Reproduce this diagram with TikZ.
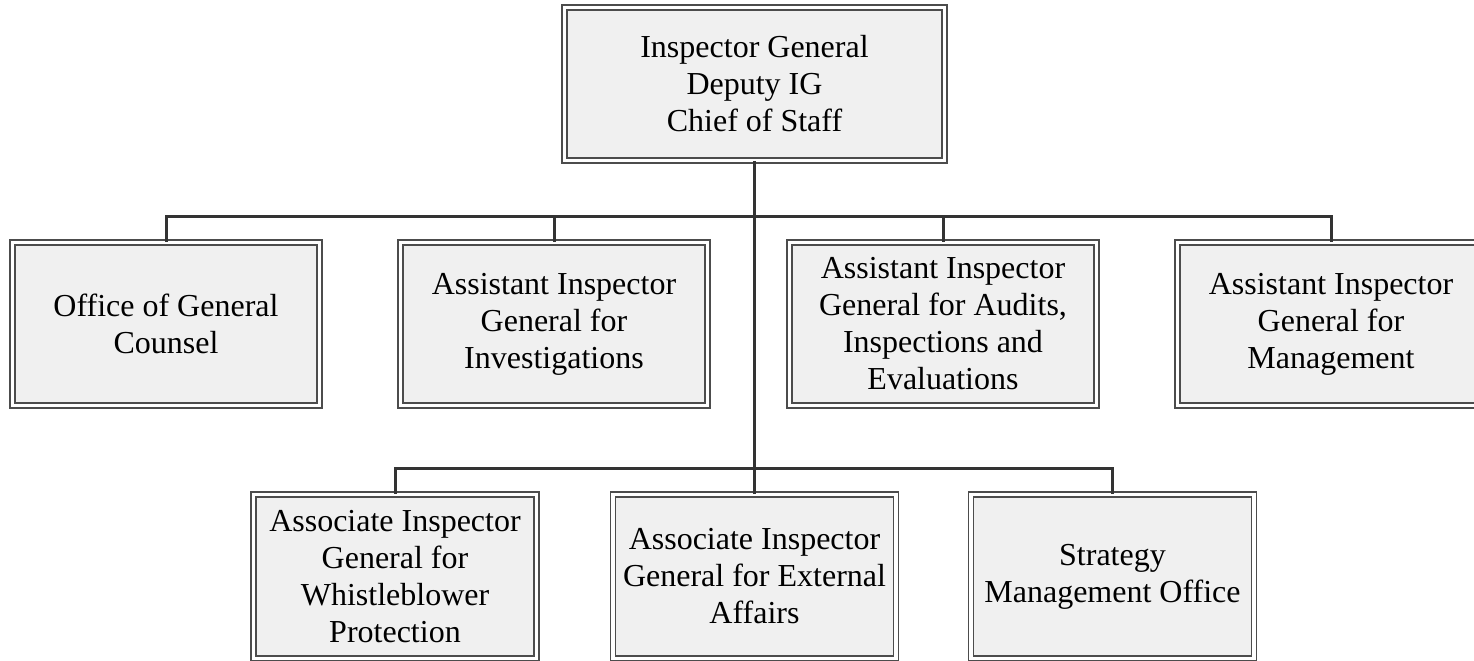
\documentclass[tikz,border=0pt]{standalone}
\usepackage{fontspec}
\setmainfont{Liberation Serif}
\begin{document}
\begin{tikzpicture}[x=0.5pt,y=-0.5pt,
  orgbox/.style={draw=black!70, line width=0.6pt, double=white, double distance=1.9pt,
    fill=black!6, align=center, inner sep=0pt, font=\fontsize{16}{18.5}\selectfont},
  wire/.style={draw=black!80, line width=1.5pt}]
\useasboundingbox (0,0) rectangle (1474,660);
\fill[white] (0,0) rectangle (1474,660);
\node[orgbox, minimum width=190pt, minimum height=76.5pt] (top) at (754.5,84) {Inspector General\\Deputy IG\\Chief of Staff};
% row 1
\node[orgbox, minimum width=153.5pt, minimum height=81.5pt] (ogc) at (166,324) {Office of General\\Counsel};
\node[orgbox, minimum width=153.5pt, minimum height=81.5pt] (inv) at (554,324) {Assistant Inspector\\General for\\Investigations};
\node[orgbox, minimum width=153.5pt, minimum height=81.5pt] (aud) at (943,324) {Assistant Inspector\\General for Audits,\\Inspections and\\Evaluations};
\node[orgbox, minimum width=153.5pt, minimum height=81.5pt] (mgt) at (1331,324) {Assistant Inspector\\General for\\Management};
% row 2
\node[orgbox, minimum width=141.5pt, minimum height=82pt] (wbp) at (395,576.5) {Associate Inspector\\General for\\Whistleblower\\Protection};
\node[orgbox, minimum width=141.5pt, minimum height=82pt] (ext) at (754.5,576.5) {Associate Inspector\\General for External\\Affairs};
\node[orgbox, minimum width=141.5pt, minimum height=82pt] (smo) at (1112.5,576.5) {Strategy\\Management Office};
% buses
\coordinate (b1) at (754.5,216);
\coordinate (b2) at (754.5,468);
\draw[wire] (top.south) -- (ext.north);
\draw[wire] (ogc.north) |- (b1) -| (mgt.north);
\draw[wire] (inv.north) -- (inv.north |- b1);
\draw[wire] (aud.north) -- (aud.north |- b1);
\draw[wire] (wbp.north) |- (b2) -| (smo.north);
\end{tikzpicture}
\end{document}
